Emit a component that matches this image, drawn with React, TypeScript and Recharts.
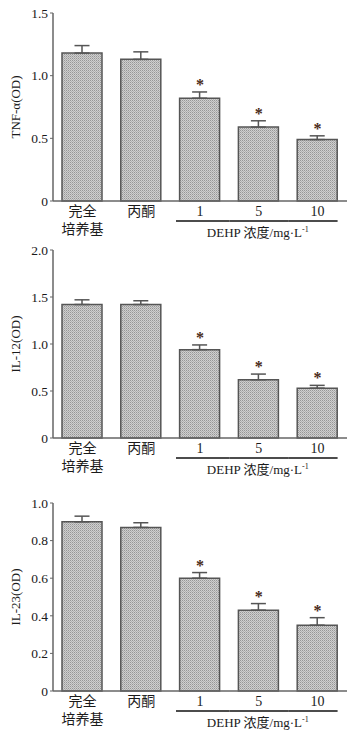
import { ComposedChart, Bar, Line, XAxis, YAxis, ErrorBar } from 'recharts'

// groups on the x axis
const groupLines = [['完全', '培养基'], ['丙酮'], ['1'], ['5'], ['10']]
const doseGroup = [false, false, true, true, true]
const significant = [false, false, true, true, true]

// TNF-α
const tnfMean = [1.18, 1.13, 0.82, 0.59, 0.49]
const tnfErr = [0.06, 0.06, 0.05, 0.05, 0.03]
const tnfTicks = [0, 0.5, 1.0, 1.5]

// IL-12
const il12Mean = [1.42, 1.42, 0.94, 0.62, 0.53]
const il12Err = [0.05, 0.04, 0.05, 0.06, 0.03]
const il12Ticks = [0, 0.5, 1.0, 1.5, 2.0]

// IL-23
const il23Mean = [0.9, 0.87, 0.6, 0.43, 0.35]
const il23Err = [0.03, 0.025, 0.03, 0.035, 0.04]
const il23Ticks = [0, 0.2, 0.4, 0.6, 0.8, 1.0]

const FONT = '"Liberation Serif", "Times New Roman", "Noto Sans CJK SC", serif'
const TEXT = '#1a1a1a'
const HALF_BAND = 29.4

function GroupTick(props: any) {
  const { x, y, index } = props
  const lines = groupLines[index] || []
  return (
    <g>
      {lines.map((t, i) => (
        <text key={i} x={x} y={y + 15 + i * 18} textAnchor="middle" fontSize={14} fill={TEXT} fontFamily={FONT}>
          {t}
        </text>
      ))}
      {doseGroup[index] && (
        <line
          x1={x - (index === 2 ? 24 : HALF_BAND)}
          x2={x + (index === 4 ? 20 : HALF_BAND)}
          y1={y + 20}
          y2={y + 20}
          stroke="#111"
          strokeWidth={1.6}
        />
      )}
      {index === 3 && (
        <text x={x - 1} y={y + 36} textAnchor="middle" fontSize={13} fill={TEXT} fontFamily={FONT}>
          DEHP 浓度/mg·L<tspan dy={-5} fontSize={8}>-1</tspan>
        </text>
      )}
    </g>
  )
}

function StarDot(props: any) {
  const { cx, cy, payload } = props
  if (payload == null || payload.star == null || cy == null) return <g />
  return (
    <text x={cx} y={cy - 2} textAnchor="middle" fontSize={16} fontWeight="bold" fill="#4a2c18" fontFamily={FONT}>
      *
    </text>
  )
}

interface PanelProps {
  id: string
  label: string
  mean: number[]
  err: number[]
  ticks: number[]
  height: number
  top: number
}

function Panel({ id, label, mean, err, ticks, height, top }: PanelProps) {
  const data = mean.map((m, i) => ({
    name: groupLines[i].join(''),
    value: m,
    errRange: [0, err[i]],
    star: significant[i] ? m + err[i] : null,
  }))
  const max = ticks[ticks.length - 1]
  const plotH = 188
  const axisH = height - top - plotH
  return (
    <ComposedChart
      width={351}
      height={height}
      data={data}
      margin={{ top, right: 4, bottom: 0, left: 13 }}
      barCategoryGap={0}
    >
      <defs>
        <pattern id={id} width="2" height="2" patternUnits="userSpaceOnUse">
          <rect width="2" height="2" fill="#cfcfcf" />
          <rect width="1" height="1" fill="#969696" />
          <rect x="1" y="1" width="1" height="1" fill="#b0b0b0" />
        </pattern>
      </defs>
      <XAxis
        dataKey="name"
        tickLine={false}
        tickSize={0}
        tickMargin={0}
        height={axisH}
        interval={0}
        axisLine={{ stroke: '#666', strokeWidth: 1.5 }}
        tick={<GroupTick />}
      />
      <YAxis
        width={40}
        domain={[0, max]}
        ticks={ticks}
        tickSize={3}
        tickMargin={2}
        axisLine={{ stroke: '#666', strokeWidth: 1.5 }}
        tickLine={{ stroke: '#666' }}
        tick={{ fontSize: 13.5, fill: TEXT, fontFamily: FONT }}
        tickFormatter={(v: number) => (v === 0 ? '0' : v.toFixed(1))}
        label={{
          value: label,
          angle: -90,
          position: 'insideLeft',
          offset: 2,
          style: { textAnchor: 'middle', fontSize: 13, fill: TEXT, fontFamily: FONT },
        }}
      />
      <Bar
        dataKey="value"
        barSize={40}
        fill={`url(#${id})`}
        stroke="#555"
        strokeWidth={1.5}
        isAnimationActive={false}
      >
        <ErrorBar dataKey="errRange" direction="y" width={7.5} stroke="#555" strokeWidth={1.5} />
      </Bar>
      <Line
        dataKey="star"
        stroke="none"
        dot={<StarDot />}
        activeDot={false}
        legendType="none"
        isAnimationActive={false}
      />
    </ComposedChart>
  )
}

export default function App() {
  return (
    <div style={{ position: 'absolute', left: 0, top: 0, width: 351, height: 734, background: '#fff' }}>
      <Panel id="patTnf" label="TNF-α(OD)" mean={tnfMean} err={tnfErr} ticks={tnfTicks} height={240} top={13} />
      <Panel id="patIl12" label="IL-12(OD)" mean={il12Mean} err={il12Err} ticks={il12Ticks} height={240} top={10} />
      <Panel id="patIl23" label="IL-23(OD)" mean={il23Mean} err={il23Err} ticks={il23Ticks} height={254} top={23} />
    </div>
  )
}
